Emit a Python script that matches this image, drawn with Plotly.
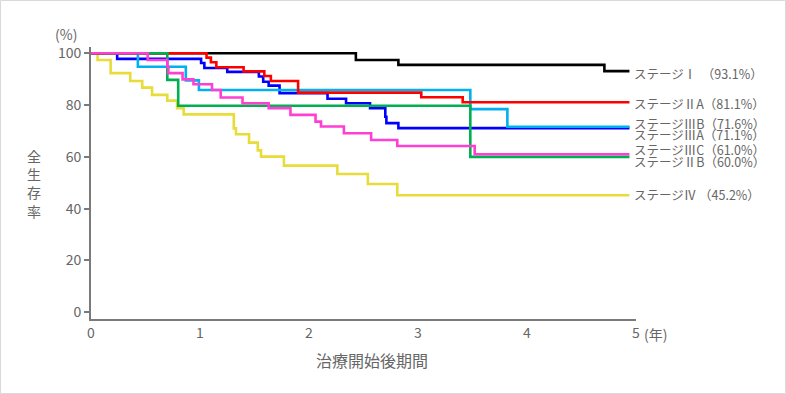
import plotly.graph_objects as go

# ---- data (years, overall survival %) ----
stage_labels = ["ステージⅣ\u00a0（45.2%）", "ステージⅢA（71.1%）", "ステージⅢB（71.6%）",
                "ステージⅠ\u00a0\u00a0（93.1%）", "ステージⅡA（81.1%）", "ステージⅡB（60.0%）", "ステージⅢC（61.0%）"]

t_IV = [0, 0.06, 0.18, 0.36, 0.47, 0.56, 0.70, 0.79, 0.85, 1.31, 1.33, 1.45, 1.53, 1.56, 1.77, 2.26, 2.54, 2.81, 4.94]
s_IV = [100, 97.4, 92.3, 89.3, 86.7, 83.9, 81.7, 78.8, 76.4, 71.0, 68.7, 65.5, 62.5, 60.1, 56.6, 53.4, 49.5, 45.2, 45.2]

t_IIIA = [0, 0.24, 1.01, 1.04, 1.25, 1.54, 1.58, 1.63, 1.73, 2.17, 2.34, 2.56, 2.70, 2.71, 2.82, 4.94]
s_IIIA = [100, 97.8, 96.2, 94.3, 92.8, 91.0, 89.0, 87.5, 84.6, 82.4, 80.7, 78.8, 75.5, 73.0, 71.1, 71.1]

t_IIIB = [0, 0.43, 0.87, 0.99, 3.48, 3.82, 4.94]
s_IIIB = [100, 94.8, 89.5, 85.8, 78.4, 71.6, 71.6]

t_I = [0, 2.43, 2.82, 4.71, 4.94]
s_I = [100, 97.4, 95.5, 93.1, 93.1]

t_IIA = [0, 1.06, 1.10, 1.15, 1.40, 1.59, 1.65, 1.90, 3.03, 3.41, 4.94]
s_IIA = [100, 98.3, 96.5, 94.6, 93.0, 91.2, 89.3, 84.8, 83.0, 81.1, 81.1]

t_IIB = [0, 0.70, 0.80, 3.48, 4.94]
s_IIB = [100, 89.7, 79.7, 60.0, 60.0]

t_IIIC = [0, 0.52, 0.70, 0.71, 0.84, 0.94, 1.11, 1.19, 1.39, 1.63, 1.83, 2.06, 2.11, 2.32, 2.57, 2.81, 3.52, 4.94]
s_IIIC = [100, 97.4, 94.8, 92.3, 89.9, 88.0, 85.8, 82.9, 80.7, 78.8, 76.2, 73.6, 71.7, 69.1, 66.5, 64.2, 61.0, 61.0]

x_ticks = [0, 1, 2, 3, 4, 5]
y_ticks = [0, 20, 40, 60, 80, 100]

series_t = [t_IV, t_IIIA, t_IIIB, t_I, t_IIA, t_IIB, t_IIIC]
series_s = [s_IV, s_IIIA, s_IIIB, s_I, s_IIA, s_IIB, s_IIIC]
colors = ["#e8dc3a", "#0000ff", "#00b0f0", "#000000", "#ff0000", "#00b050", "#ff3fd2"]

# label vertical positions (in % units)
label_y = [45.3, 68.8, 73.0, 92.3, 80.7, 58.1, 62.7]

FONT = "Noto Sans CJK JP"
GRAY = "#7a7a7a"
TXT = "#666666"

fig = go.Figure()
for t, s, c in zip(series_t, series_s, colors):
    fig.add_trace(go.Scatter(x=t, y=s, mode="lines", line=dict(color=c, width=2.6, shape="hv"),
                             showlegend=False, hoverinfo="skip"))

L, R, T, B = 91, 150, 47, 75
W, H = 786, 394
pw, ph = W - L - R, H - T - B

def px_to_paper_x(px):
    return (px - L) / pw

def py_to_paper_y(py):
    return (H - B - py) / ph

ann = []
for lab, yv in zip(stage_labels, label_y):
    ann.append(dict(x=px_to_paper_x(632), xref="paper", y=yv, yref="y", text=lab, showarrow=False,
                    xanchor="left", yanchor="middle", font=dict(family=FONT, size=12.5, color=TXT)))

# y title, stacked vertically
ann.append(dict(x=px_to_paper_x(34), xref="paper", y=py_to_paper_y(183), yref="paper",
                text="全<br>生<br>存<br>率", showarrow=False, xanchor="center", yanchor="middle",
                font=dict(family=FONT, size=14, color=TXT)))

ann.append(dict(x=px_to_paper_x(66), xref="paper", y=py_to_paper_y(34), yref="paper", text="(%)",
                showarrow=False, xanchor="center", yanchor="middle", font=dict(family=FONT, size=14, color=TXT)))
ann.append(dict(x=px_to_paper_x(642), xref="paper", y=py_to_paper_y(334), yref="paper", text="(年)",
                showarrow=False, xanchor="left", yanchor="middle", font=dict(family=FONT, size=14, color=TXT)))
ann.append(dict(x=px_to_paper_x(372), xref="paper", y=py_to_paper_y(360), yref="paper", text="治療開始後期間",
                showarrow=False, xanchor="center", yanchor="middle", font=dict(family=FONT, size=16, color=TXT)))

shapes = [dict(type="rect", xref="paper", yref="paper",
               x0=px_to_paper_x(0.5), x1=px_to_paper_x(785.5),
               y0=py_to_paper_y(393.5), y1=py_to_paper_y(0.5),
               line=dict(color="#d9d9d9", width=1), fillcolor="rgba(0,0,0,0)", layer="below")]

fig.update_layout(
    width=W, height=H,
    margin=dict(l=L, r=R, t=T, b=B),
    paper_bgcolor="white", plot_bgcolor="white",
    font=dict(family=FONT, size=14, color=TXT),
    xaxis=dict(range=[0, 5], tickvals=x_ticks, ticktext=[str(v) for v in x_ticks],
               showline=True, linecolor=GRAY, linewidth=2, ticks="", showgrid=False, zeroline=False,
               tickfont=dict(family=FONT, size=14, color=TXT)),
    yaxis=dict(range=[-2.6, 102.4], tickvals=y_ticks, ticktext=[str(v) for v in y_ticks],
               showline=True, linecolor=GRAY, linewidth=2, ticks="outside", ticklen=5, tickwidth=1.5,
               tickcolor=GRAY, showgrid=False, zeroline=False,
               tickfont=dict(family=FONT, size=14, color=TXT)),
    annotations=ann, shapes=shapes,
)

fig.write_html("out.html", config={"displayModeBar": False},
               post_script="document.body.style.margin='0px';document.body.style.overflow='hidden';")
